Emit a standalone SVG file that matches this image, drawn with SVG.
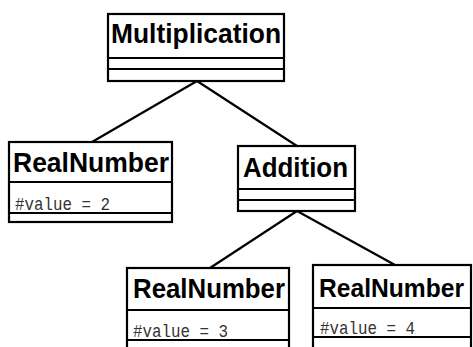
<svg xmlns="http://www.w3.org/2000/svg" width="473" height="347" viewBox="0 0 473 347">
<style>
.box{fill:#fff;stroke:#000;stroke-width:2.2}
.ln{stroke:#000;stroke-width:2.2;fill:none}
.name{font-family:"Liberation Sans",Arial,sans-serif;font-weight:bold;font-size:28px;fill:#000}
.attr{font-family:"Liberation Mono","Courier New",monospace;font-size:19px;fill:#333}
</style>
<rect width="473" height="347" fill="#fff"/>
<g id="connectors">
<line class="ln" x1="197" y1="81" x2="92" y2="142"/>
<line class="ln" x1="197" y1="81" x2="297" y2="146"/>
<line class="ln" x1="297" y1="211" x2="210" y2="268"/>
<line class="ln" x1="297" y1="211" x2="395" y2="265"/>
</g>
<g id="multiplication">
<rect class="box" x="108" y="14" width="176" height="67"/>
<line class="ln" x1="108" y1="58" x2="284" y2="58"/>
<line class="ln" x1="108" y1="69" x2="284" y2="69"/>
<text class="name" x="111" y="43" textLength="170" lengthAdjust="spacingAndGlyphs">Multiplication</text>
</g>
<g id="realnumber2">
<rect class="box" x="9" y="142" width="163" height="80"/>
<line class="ln" x1="9" y1="182" x2="172" y2="182"/>
<line class="ln" x1="9" y1="213" x2="172" y2="213"/>
<text class="name" x="13" y="172" textLength="156" lengthAdjust="spacingAndGlyphs">RealNumber</text>
<text class="attr" x="15" y="210" textLength="95" lengthAdjust="spacingAndGlyphs">#value = 2</text>
</g>
<g id="addition">
<rect class="box" x="238" y="146" width="117" height="65"/>
<line class="ln" x1="238" y1="189" x2="355" y2="189"/>
<line class="ln" x1="238" y1="200" x2="355" y2="200"/>
<text class="name" x="243" y="177" textLength="105" lengthAdjust="spacingAndGlyphs">Addition</text>
</g>
<g id="realnumber3">
<rect class="box" x="127" y="268" width="162" height="90"/>
<line class="ln" x1="127" y1="310" x2="289" y2="310"/>
<line class="ln" x1="127" y1="340" x2="289" y2="340"/>
<text class="name" x="133" y="298" textLength="152" lengthAdjust="spacingAndGlyphs">RealNumber</text>
<text class="attr" x="133" y="337" textLength="95" lengthAdjust="spacingAndGlyphs">#value = 3</text>
</g>
<g id="realnumber4">
<rect class="box" x="313" y="265" width="158" height="90"/>
<line class="ln" x1="313" y1="308" x2="471" y2="308"/>
<line class="ln" x1="313" y1="337" x2="471" y2="337"/>
<text class="name" x="319" y="297" style="font-size:26px" textLength="145" lengthAdjust="spacingAndGlyphs">RealNumber</text>
<text class="attr" x="320" y="334" textLength="95" lengthAdjust="spacingAndGlyphs">#value = 4</text>
</g>
</svg>
